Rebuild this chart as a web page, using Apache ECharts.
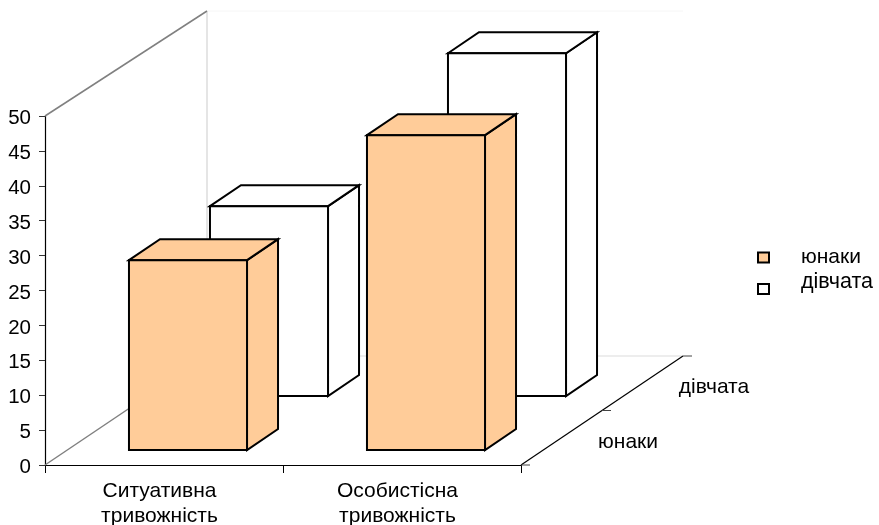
<!DOCTYPE html>
<html><head><meta charset="utf-8">
<style>html,body{margin:0;padding:0;background:#fff}#c{width:879px;height:525px}</style>
<script src="https://cdn.jsdelivr.net/npm/echarts@6/dist/echarts.min.js"></script>
</head><body><div id="c"></div>
<script>
const categories = ['Ситуативна\nтривожність', 'Особистісна\nтривожність'];
const depthLabels = ['юнаки', 'дівчата'];
const yunaky = [27.2, 45.1];
const divchata = [27.2, 49.1];
const yTicks = {min: 0, max: 50, interval: 5};

const FONT = '"Liberation Sans", Arial, sans-serif';
const FS = 20.5;
const FS2 = 21;
const BAR = 0.496, DX = 31, DY = 21;
const FLOOR = [162, 109];

function barItem(shiftX, shiftY, fill) {
  return function (params, api) {
    const c = api.value(0), v = api.value(1);
    const band = api.size([1, 0])[0], w = band * BAR;
    const top = api.coord([c, v]), base = api.coord([c, 0]);
    const x = top[0] - w / 2 + shiftX, x2 = x + w;
    const yt = top[1] - shiftY, yb = base[1] - shiftY;
    const st = {fill: fill, stroke: '#000', lineWidth: 2, lineJoin: 'miter'};
    return {type: 'group', children: [
      {type: 'polygon', shape: {points: [[x2, yt], [x2 + DX, yt - DY], [x2 + DX, yb - DY], [x2, yb]]}, style: st},
      {type: 'polygon', shape: {points: [[x, yt], [x + DX, yt - DY], [x2 + DX, yt - DY], [x2, yt]]}, style: st},
      {type: 'rect', shape: {x: x, y: yt, width: w, height: yb - yt}, style: st}
    ]};
  };
}

function frameItem(params, api) {
  const band = api.size([1, 0])[0];
  const o = api.coord([0, 0]), t = api.coord([0, 50]);
  const x0 = o[0] - band / 2, y0 = o[1], yTop = t[1];
  const x1 = x0 + 2 * band;
  const line = (a, b, c, d, color, lw) => ({type: 'line', shape: {x1: a, y1: b, x2: c, y2: d},
    style: {stroke: color, lineWidth: lw}});
  const [fx, fy] = FLOOR;
  const label = (txt, x, y) => ({type: 'text', style: {text: txt, x: x, y: y, fill: '#000',
    font: FS2 + 'px ' + FONT, align: 'center', verticalAlign: 'middle'}});
  return {type: 'group', children: [
    line(x0 + fx, y0 - fy, x1 + fx, y0 - fy, '#dcdcdc', 1.2),
    line(x0 + fx, yTop - fy + 4, x0 + fx, y0 - fy, '#dcdcdc', 1.5),
    line(x0 + fx, yTop - fy + 4, x1 + fx, yTop - fy + 4, '#f6f6f6', 1),
    line(x0, y0, x0 + fx, y0 - fy, '#808080', 1.5),
    line(x0, yTop, x0 + fx, yTop - fy + 4, '#808080', 1.5),
    line(x1, y0, x1 + fx, y0 - fy, '#000', 1.2),
    line(x1, y0, x1 + 9, y0, '#444', 1),
    line(x1 + fx / 2, y0 - fy / 2, x1 + fx / 2 + 9, y0 - fy / 2, '#444', 1),
    line(x1 + fx, y0 - fy, x1 + fx + 9, y0 - fy, '#444', 1),
    label(depthLabels[0], x1 + 107, y0 - 23),
    label(depthLabels[1], x1 + 193, y0 - 78)
  ]};
}

const toData = a => a.map((v, i) => [i, v]);
const baseSeries = {type: 'custom', encode: {x: 0, y: 1}, silent: true, clip: false};

const chart = echarts.init(document.getElementById('c'), null, {renderer: 'canvas'});
chart.setOption({
  animation: false,
  backgroundColor: '#fff',
  tooltip: {show: false},
  grid: {left: 45, top: 116, width: 476, height: 349, containLabel: false, outerBoundsMode: 'none'},
  xAxis: {type: 'category', data: categories, boundaryGap: true,
    axisLine: {lineStyle: {color: '#000', width: 1.2}},
    axisTick: {show: true, length: 8, alignWithLabel: false, lineStyle: {color: '#000', width: 1}},
    axisLabel: {color: '#000', fontFamily: FONT, fontSize: FS2, margin: 14, lineHeight: 25, interval: 0, padding: [0, 9, 0, 0]}},
  yAxis: {type: 'value', min: yTicks.min, max: yTicks.max, interval: yTicks.interval,
    splitLine: {show: false},
    axisLine: {show: true, lineStyle: {color: '#000', width: 1.2}},
    axisTick: {show: true, length: 6, lineStyle: {color: '#333', width: 1}},
    axisLabel: {color: '#000', fontFamily: FONT, fontSize: FS, margin: 14,
      formatter: '{a|{value}}',
      rich: {a: {color: '#000', fontFamily: FONT, fontSize: FS, padding: [5, 0, 0, 0]}}}},
  legend: [
    {data: ['юнаки'], left: 752, top: 242, orient: 'vertical', icon: 'rect', itemWidth: 11, itemHeight: 10, itemGap: 0,
      itemStyle: {borderColor: '#000', borderWidth: 2},
      textStyle: {color: '#000', fontFamily: FONT, fontSize: FS2, padding: [0, 0, 0, 27]}, selectedMode: false},
    {data: ['дівчата'], left: 752, top: 266, orient: 'vertical', icon: 'rect', itemWidth: 11, itemHeight: 10, itemGap: 0,
      formatter: '{a|{name}}',
      itemStyle: {borderColor: '#000', borderWidth: 2},
      textStyle: {color: '#000', fontFamily: FONT, fontSize: FS2,
        rich: {a: {color: '#000', fontFamily: FONT, fontSize: 21.5, padding: [0, 0, 14, 27]}}}, selectedMode: false}
  ],
  series: [
    Object.assign({}, baseSeries, {name: 'frame', data: [[0, 0]], renderItem: frameItem, z: 1}),
    Object.assign({}, baseSeries, {name: 'дівчата', data: toData(divchata), itemStyle: {color: '#ffffff'},
      renderItem: barItem(105, 69, '#ffffff'), z: 2}),
    Object.assign({}, baseSeries, {name: 'юнаки', data: toData(yunaky), itemStyle: {color: '#FFCC99'},
      renderItem: barItem(24, 15, '#FFCC99'), z: 3})
  ]
});
</script></body></html>
